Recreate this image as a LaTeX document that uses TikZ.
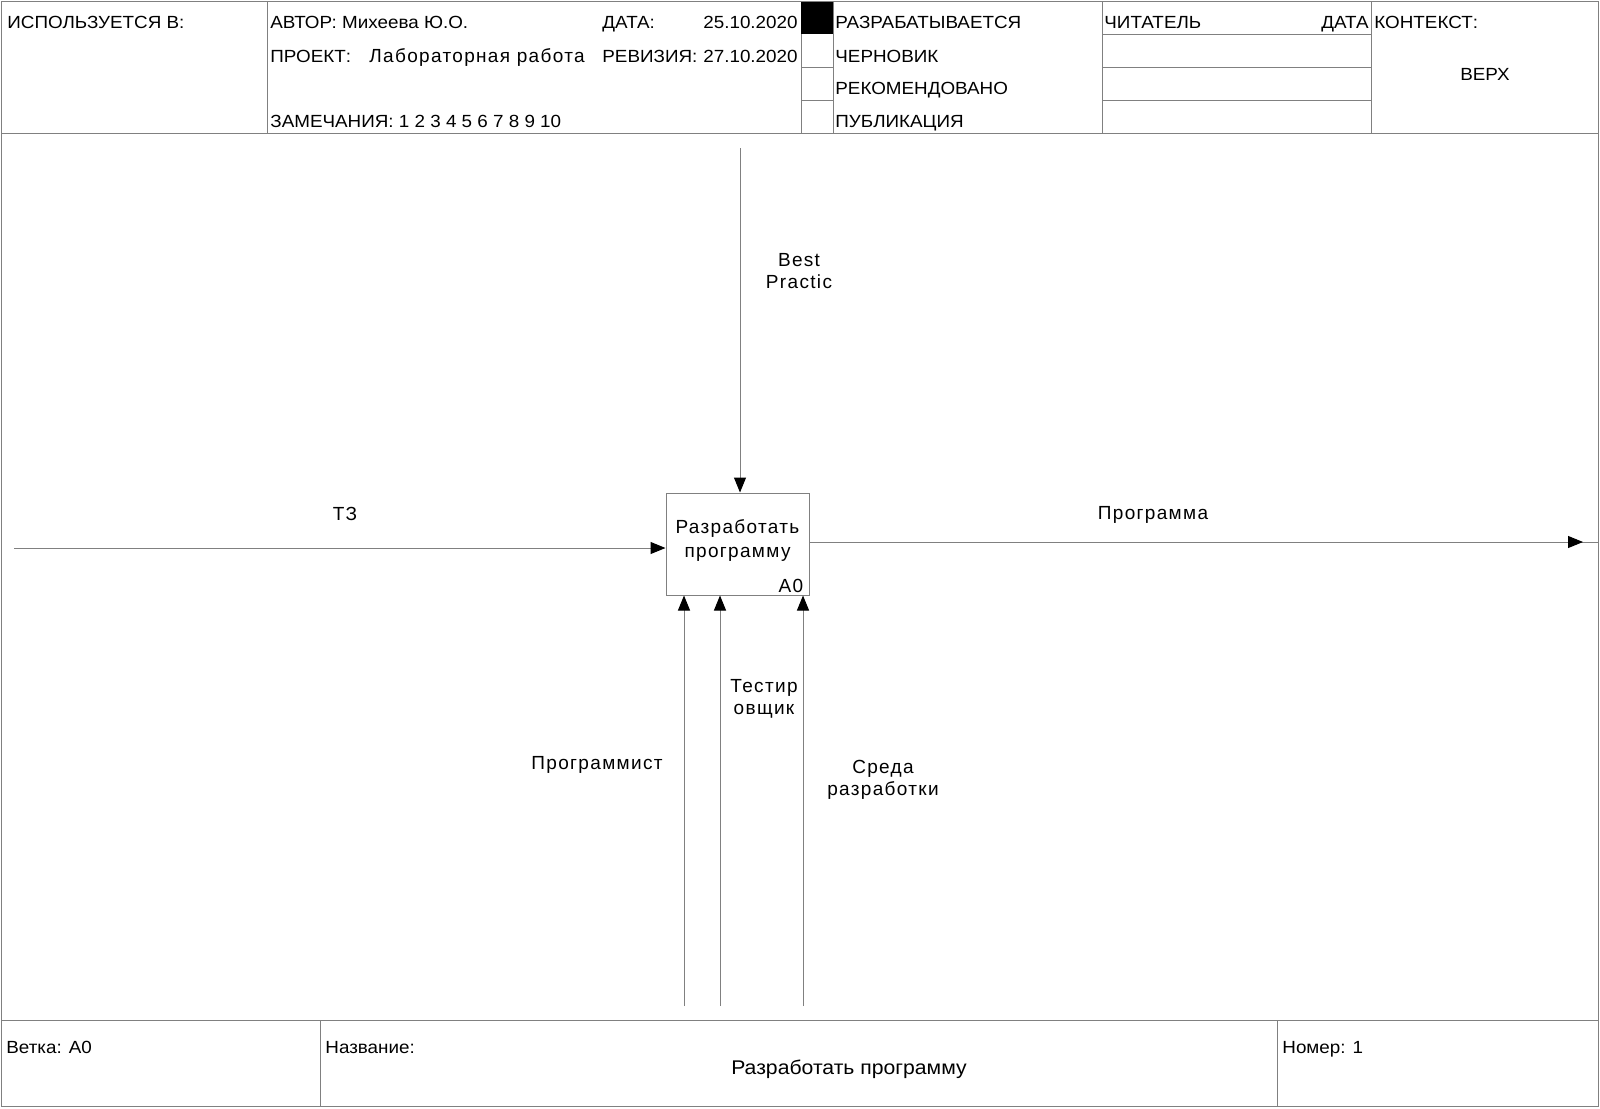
\documentclass[tikz,border=0pt]{standalone}
\usepackage{fontspec}
\setmainfont{Liberation Sans}
\newfontfamily\hdrfam[FakeStretch=1.07]{Liberation Sans}
\newfontfamily\lblfam[LetterSpace=7]{Liberation Sans}
\usetikzlibrary{arrows.meta}
\definecolor{linegray}{gray}{0.5}
\newcommand\hdrfont{\fontsize{8.8}{10}\selectfont\hdrfam}
\newcommand\ttlfont{\fontsize{9.9}{11}\selectfont\hdrfam}
\newcommand\lblfont{\fontsize{9.5}{11}\selectfont\lblfam}
\tikzset{
  frameline/.style={draw=linegray, line width=0.5pt},
  hdr/.style={font=\hdrfont, inner sep=0pt, text=black},
  lbl/.style={font=\lblfont, inner sep=0pt, align=center, text=black},
  arr/.style={draw=linegray, line width=0.5pt,
    -{Triangle[length=7.5pt,width=6pt,color=black]}},
  funcbox/.style={draw=linegray, line width=0.5pt, minimum width=71.5pt,
    minimum height=51pt, inner sep=0pt, align=center, font=\lblfont}
}
\begin{document}
\begin{tikzpicture}[x=0.5pt,y=-0.5pt]
\useasboundingbox (0,0) rectangle (1600,1108);
\fill[white] (0,0) rectangle (1600,1108);

% outer frame, header and footer rules
\draw[frameline] (1,1.5) rectangle (1598.5,1106.5);
\draw[frameline] (1,133) -- (1598.5,133);
\draw[frameline] (1,1020) -- (1598.5,1020);
\foreach \xx in {267,801,833,1102,1371}
  \draw[frameline] (\xx,1.5) -- (\xx,133);
\foreach \yy in {34,67,100}
  \draw[frameline] (1102,\yy) -- (1371,\yy);
\foreach \yy in {67,100}
  \draw[frameline] (801,\yy) -- (833,\yy);
\fill[black] (801,1.5) rectangle (833,34);
\draw[frameline] (320,1020) -- (320,1106.5);
\draw[frameline] (1277,1020) -- (1277,1106.5);

% header texts
\node[hdr, anchor=base west] (usedin) at (7,28) {ИСПОЛЬЗУЕТСЯ В:};
\node[hdr, anchor=base west] (author) at (270,28) {АВТОР: Михеева Ю.О.};
\node[hdr, anchor=base west] (datelbl) at (602,28) {ДАТА:};
\node[hdr, anchor=base east] (dateval) at (798,28) {25.10.2020};
\node[hdr, anchor=base west] (project) at (270,62) {ПРОЕКТ:};
\node[lbl, anchor=base west] (projname) at (369,62) {Лабораторная работа};
\node[hdr, anchor=base west] (revlbl) at (602,62) {РЕВИЗИЯ:};
\node[hdr, anchor=base east] (revval) at (798,62) {27.10.2020};
\node[hdr, anchor=base west] (notes) at (270,127) {ЗАМЕЧАНИЯ: 1 2 3 4 5 6 7 8 9 10};
\node[hdr, anchor=base west] (st1) at (835,28) {РАЗРАБАТЫВАЕТСЯ};
\node[hdr, anchor=base west] (st2) at (835,62) {ЧЕРНОВИК};
\node[hdr, anchor=base west] (st3) at (835,94.5) {РЕКОМЕНДОВАНО};
\node[hdr, anchor=base west] (st4) at (835,127) {ПУБЛИКАЦИЯ};
\node[hdr, anchor=base west] (reader) at (1104,28) {ЧИТАТЕЛЬ};
\node[hdr, anchor=base east] (readdate) at (1369,28) {ДАТА};
\node[hdr, anchor=base west] (context) at (1374,28) {КОНТЕКСТ:};
\node[hdr] (top) at (1485,74) {ВЕРХ};

% footer texts
\node[hdr, anchor=base west] (node) at (6,1053) {Ветка: А0};
\node[hdr, anchor=base west] (titlelbl) at (325,1053) {Название:};
\node[font=\ttlfont, inner sep=0pt] (title) at (849,1069) {Разработать программу};
\node[hdr, anchor=base west] (number) at (1282,1053) {Номер: 1};

% activity box
\node[funcbox] (box) at (737.5,544) {};
\node[lbl] (boxtext) at ([yshift=2pt]box.center) {Разработать\\[1pt]программу};
\node[lbl, anchor=south east] (boxid) at ([xshift=-3pt,yshift=1pt]box.south east) {А0};

% boundary ends of the arrows
\coordinate (ctrl) at (740,148);
\coordinate (inp) at (14,548);
\coordinate (outp) at (1583,542);
\coordinate (edge) at (1598.5,542);
\coordinate (mechA) at (684,1006);
\coordinate (mechB) at (720,1006);
\coordinate (mechC) at (803,1006);

% arrows
\draw[arr] (ctrl) -- (ctrl |- box.north);
\draw[arr] (inp) -- (inp -| box.west);
\draw[frameline] (outp -| box.east) -- (edge);
\draw[arr] (outp -| box.east) -- (outp);
\draw[arr] (mechA) -- (mechA |- box.south);
\draw[arr] (mechB) -- (mechB |- box.south);
\draw[arr] (mechC) -- (mechC |- box.south);

% arrow labels
\node[lbl] (bp) at (799,271) {Best\\Practic};
\node[lbl] (tz) at (345,514) {ТЗ};
\node[lbl] (prog) at (1153,515) {Программа};
\node[lbl] (dev) at (597,765) {Программист};
\node[lbl] (tester) at (764,699) {Тестир\\овщик};
\node[lbl] (env) at (883,780) {Среда\\разработки};
\end{tikzpicture}
\end{document}
